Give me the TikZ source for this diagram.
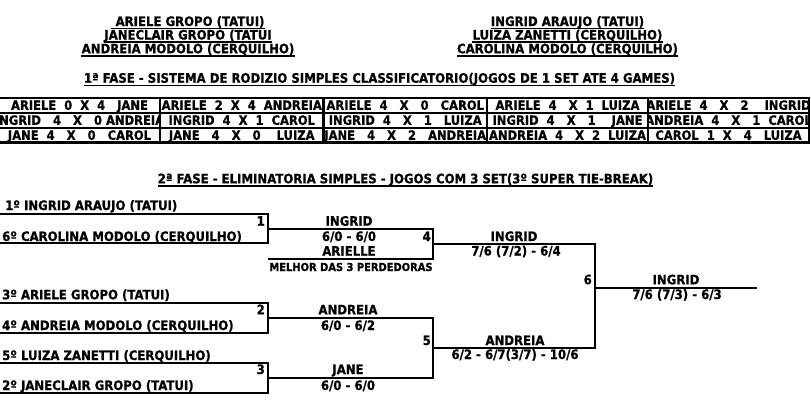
\documentclass[tikz,border=0pt]{standalone}
\usepackage{fontspec}
\setmainfont{DejaVu Sans}[FakeStretch=0.9, BoldFeatures={FakeBold=0.8}]
\usetikzlibrary{positioning}

\begin{document}
\begin{tikzpicture}[x=1pt, y=-1pt,
    lbl/.style={font=\bfseries\fontsize{13}{15}\selectfont, inner sep=0pt, anchor=base},
    hdr/.style={lbl, append after command={([yshift=-2.6pt]\tikzlastnode.base west)
        edge[line width=1.3pt] ([yshift=-2.6pt]\tikzlastnode.base east)}},
    cell/.style={lbl, font=\bfseries\fontsize{12.8}{14}\selectfont},
    small/.style={lbl, font=\bfseries\fontsize{11}{12}\selectfont},
    num/.style={lbl, anchor=base east},
    player/.style={lbl, anchor=base west},
    bline/.style={line width=2pt},
    grid/.style={line width=2.4pt}]
    \useasboundingbox (0,0) rectangle (811,405);

    % teams
    \node[hdr] (tA1) at (188,26) {~ARIELE GROPO (TATUI)};
    \node[hdr] (tA2) at (188,39.5) {JANECLAIR GROPO (TATUI};
    \node[hdr] (tA3) at (188,53.3) {ANDREIA MODOLO (CERQUILHO)};
    \node[hdr] (tB1) at (567.5,26) {INGRID ARAUJO (TATUI)};
    \node[hdr] (tB2) at (567.5,39.5) {LUIZA ZANETTI (CERQUILHO)};
    \node[hdr] (tB3) at (567.5,53.3) {CAROLINA MODOLO (CERQUILHO)};

    % 1a fase
    \node[hdr] (fase1) at (379.5,82.7) {1ª FASE - SISTEMA DE RODIZIO SIMPLES CLASSIFICATORIO(JOGOS DE 1 SET ATE 4 GAMES)~};
    \foreach \xa/\xb/\ta/\tb/\tc [count=\k] in {
        -1/160/{ARIELE~~0~~X~~4~~~JANE}/{INGRID~~~4~~~X~~~0~ANDREIA}/{JANE~~4~~~X~~~0~~~CAROL},
        160/323.5/{ARIELE~~2~~X~~4~~ANDREIA}/{INGRID~~4~~X~~1~~CAROL}/{JANE~~~4~~~X~~~0~~~~LUIZA},
        323.5/487/{ARIELE~~4~~~X~~~0~~~CAROL}/{INGRID~~4~~~X~~~1~~~LUIZA}/{JANE~~~4~~~X~~~2~~~ANDREIA},
        487/648/{ARIELE~~4~~~X~~1~~LUIZA}/{INGRID~~4~~~X~~~1~~~~JANE}/{ANDREIA~~4~~~X~~2~~LUIZA},
        648/809/{ARIELE~~4~~~X~~~2~~~~INGRID}/{ANDREIA~~4~~~X~~~1~~CAROL}/{CAROL~~1~~X~~~4~~~LUIZA}}{
        \foreach \yy/\txt [count=\r] in {109.8/\ta, 124.8/\tb, 139.8/\tc}{
            \begin{scope}
                \clip (\xa+1,\yy-12) rectangle (\xb-1,\yy+4);
                \node[cell] (c\r\k) at ({(\xa+\xb)/2},\yy) {\txt};
            \end{scope}
        }
    }
    \draw[grid] (-1,98) rectangle (809,142.5);
    \draw[grid] (-1,113) -- (809,113) (-1,128) -- (809,128);
    \foreach \xx in {160,323.5,487,648}
        \draw[grid] (\xx,98) -- (\xx,142.5);

    % 2a fase
    \node[hdr] (fase2) at (405.5,183.3) {2ª FASE - ELIMINATORIA SIMPLES - JOGOS COM 3 SET(3º SUPER TIE-BREAK)};

    \node[player] (p1) at (5,210) {1º INGRID ARAUJO (TATUI)};
    \node[player] (p6) at (2,241) {6º CAROLINA MODOLO (CERQUILHO)};
    \node[player] (p3) at (2,299.3) {3º ARIELE GROPO (TATUI)};
    \node[player] (p4) at (2,330) {4º ANDREIA MODOLO (CERQUILHO)};
    \node[player] (p5) at (2,360) {5º LUIZA ZANETTI (CERQUILHO)};
    \node[player] (p2) at (2,390) {2º JANECLAIR GROPO (TATUI)};

    \coordinate (s1) at (0,214.3);
    \coordinate (s6) at (0,243.3);
    \coordinate (s3) at (0,302.7);
    \coordinate (s4) at (0,332.7);
    \coordinate (s5) at (0,362.7);
    \coordinate (s2) at (0,393.3);
    \coordinate (w1) at (268,228.5);
    \coordinate (w2) at (268,318);
    \coordinate (w3) at (268,377.7);
    \coordinate (l4) at (268,259);
    \coordinate (w4) at (433,244);
    \coordinate (w5) at (433,347.7);
    \coordinate (w6) at (595,287.7);
    \coordinate (fin) at (757,287.7);

    \draw[bline] (s1) -| (w1) |- (s6);
    \draw[bline] (s3) -| (w2) |- (s4);
    \draw[bline] (s5) -| (w3) |- (s2);
    \draw[bline] (w1) -| (w4) |- (l4);
    \draw[bline] (w2) -| (w5) |- (w3);
    \draw[bline] (w4) -| (w6) |- (w5);
    \draw[bline] (w6) -- (fin);

    % jogos
    \node[num] (n1) at (265,225.7) {1};
    \node[num] (n2) at (265,314.3) {2};
    \node[num] (n3) at (265,374) {3};
    \node[num] (n4) at (431,241) {4};
    \node[num] (n5) at (431,345) {5};
    \node[num] (n6) at (592,284.3) {6};

    \node[lbl] (v1) at (349,225.7) {INGRID};
    \node[lbl] (r1) at (349,241) {6/0 - 6/0};
    \node[lbl] (x1) at (349,255.7) {ARIELLE};
    \node[small] (x1b) at (351,271) {MELHOR DAS 3 PERDEDORAS};
    \node[lbl] (v2) at (348,314.3) {ANDREIA};
    \node[lbl] (r2) at (348,330) {6/0 - 6/2};
    \node[lbl] (v3) at (348,374) {JANE};
    \node[lbl] (r3) at (348,390) {6/0 - 6/0};
    \node[lbl] (v4) at (514,241) {INGRID};
    \node[lbl] (r4) at (516,255.5) {7/6 (7/2) - 6/4};
    \node[lbl] (v5) at (515,345) {ANDREIA};
    \node[lbl] (r5) at (515,359) {6/2 - 6/7(3/7) - 10/6};
    \node[lbl] (v6) at (676,284.3) {INGRID};
    \node[lbl] (r6) at (677,299) {7/6 (7/3) - 6/3};
\end{tikzpicture}
\end{document}
